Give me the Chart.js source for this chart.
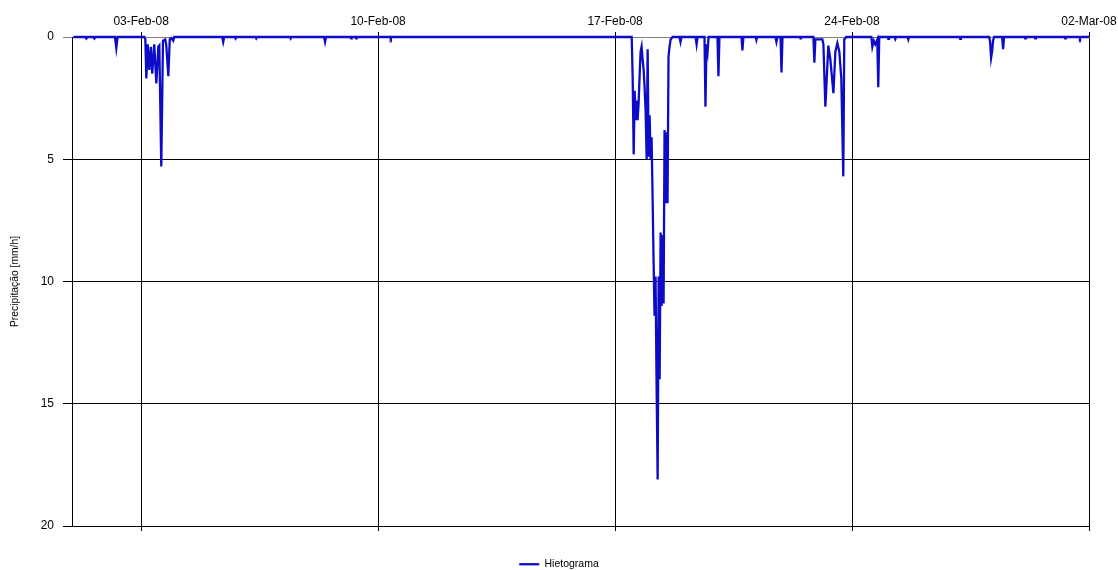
<!DOCTYPE html>
<html>
<head>
<meta charset="utf-8">
<title>Hietograma</title>
<script src="https://cdn.jsdelivr.net/npm/chart.js@4.4.1/dist/chart.umd.min.js"></script>
<style>
  html, body { margin: 0; padding: 0; background: #fff; }
  canvas { display: block; }
</style>
</head>
<body>
<canvas id="hyetograph" width="1118" height="570"></canvas>
<script>
// x axis is hours since 01-Feb-08 00:00
const tickHours = [48, 216, 384, 552, 720];
const tickLabels = ["03-Feb-08", "10-Feb-08", "17-Feb-08", "24-Feb-08", "02-Mar-08"];

const hours = [
  0, 8.5, 9.2, 9.9, 14.2, 14.9, 15.6, 29.5, 30.4, 31.3,
  // 03-Feb event
  50.3, 51.0, 51.7, 52.7, 53.8, 54.9, 55.9, 57.3, 58.8, 60.2,
  60.9, 62.3, 63.5, 65.1, 65.8, 67.3, 68.3, 69.4, 70.8, 71.5,
  105.5, 106.2, 106.9, 114.5, 115.0, 115.5, 129.0, 129.6, 130.2,
  153.5, 154.0, 154.5, 177.7, 178.4, 179.1, 196.3, 196.8, 197.3,
  200.0, 200.4, 200.8, 224.5, 225.0, 225.5,
  // 17/18-Feb storm
  395.8, 396.5, 397.2, 397.9, 398.6, 399.3, 400.0, 400.7, 401.4, 402.1,
  402.8, 403.5, 404.2, 404.9, 405.7, 406.4, 407.1, 407.8, 408.5, 409.2,
  409.9, 410.6, 411.3, 412.0, 412.7, 413.4, 414.2, 414.9, 415.6, 416.3,
  417.0, 417.7, 418.4, 419.1, 419.8, 420.5, 421.2, 421.9, 422.6, 423.4,
  424.8,
  // showers up to 24-Feb
  429.7, 430.4, 431.1, 441.1, 441.8, 442.5, 447.4, 448.1, 448.8, 449.6,
  450.3, 456.6, 457.3, 458.0, 473.6, 474.3, 475.0, 483.7, 484.2, 484.7,
  497.7, 498.4, 499.1, 501.3, 502.0, 502.7, 515.0, 515.4, 515.8,
  524.6, 525.3, 526.0, 531.0, 531.7, 533.1, 535.2, 536.6, 538.8, 540.2,
  541.6, 543.0, 544.4, 545.8, 546.5, 547.9,
  // late February
  565.7, 566.4, 567.4, 568.5, 569.9, 570.6, 571.3, 577.2, 577.7, 578.2,
  582.2, 582.7, 583.2, 591.4, 591.9, 592.4, 628.2, 628.7, 629.2,
  649.2, 649.9, 650.6, 651.3, 652.0, 652.7, 658.4, 659.1, 659.8,
  674.2, 674.7, 675.2, 681.3, 681.8, 682.3, 702.5, 703.0, 703.5,
  713.1, 713.6, 714.1, 720
];

const precip = [
  0, 0, 0.06, 0, 0, 0.06, 0, 0, 0.45, 0,
  0, 0.1, 1.7, 0.3, 1.35, 0.4, 1.5, 0.3, 1.9, 0.4,
  0.35, 5.3, 0.15, 0.1, 0.3, 1.6, 0.1, 0.05, 0.15, 0,
  0, 0.2, 0, 0, 0.06, 0, 0, 0.06, 0,
  0, 0.06, 0, 0, 0.2, 0, 0, 0.06, 0,
  0, 0.06, 0, 0, 0.06, 0,
  0, 1.7, 4.8, 2.2, 3.4, 2.6, 3.4, 2.7, 1.6, 0.6,
  0.4, 0.9, 1.3, 2.0, 3.1, 5.0, 0.5, 4.9, 3.2, 5.0,
  4.1, 6.5, 9.1, 11.4, 9.8, 14.0, 18.1, 9.8, 14.0, 8.0,
  11.0, 8.1, 10.9, 3.8, 6.8, 3.9, 6.8, 0.8, 0.4, 0.1,
  0,
  0, 0.2, 0, 0, 0.3, 0, 0, 2.85, 0.3, 0.6,
  0, 0, 1.6, 0, 0, 0.55, 0, 0, 0.12, 0,
  0, 0.2, 0, 0, 1.45, 0, 0, 0.06, 0,
  0, 1.05, 0.1, 0.1, 0.3, 2.85, 0.35, 0.9, 2.3, 0.6,
  0.25, 0.6, 1.7, 5.7, 0.1, 0,
  0, 0.4, 0.15, 0.3, 0.1, 2.05, 0, 0, 0.08, 0,
  0, 0.08, 0, 0, 0.1, 0, 0, 0.08, 0,
  0, 0.2, 0.85, 0.6, 0.15, 0, 0, 0.5, 0,
  0, 0.06, 0, 0, 0.06, 0, 0, 0.06, 0,
  0, 0.06, 0, 0
];

const family = "'Liberation Sans', Arial, sans-serif";
const tickFont = { family: family, size: 12 };

const points = hours.map((h, i) => ({ x: h, y: precip[i] }));

function fixTicks(scale) {
  scale.ticks = tickHours.map(v => ({ value: v }));
}

// keep the plot right edge at 02-Mar while the legend stays centred on the canvas
function fitX(height) {
  return s => {
    s.height = typeof height === "function" ? height(s) : height;
    s.paddingLeft = 0;
    s.paddingRight = 29;
  };
}

new Chart(document.getElementById("hyetograph"), {
  type: "line",
  data: {
    datasets: [{
      label: "Hietograma",
      data: points,
      borderColor: "rgb(12, 12, 200)",
      backgroundColor: "rgb(12, 12, 200)",
      borderWidth: 2.3,
      pointRadius: 0,
      tension: 0,
      fill: false,
      clip: 3
    }]
  },
  options: {
    responsive: false,
    animation: false,
    layout: { padding: 0 },
    plugins: {
      tooltip: { enabled: false },
      legend: {
        position: "bottom",
        maxHeight: 17,
        labels: {
          usePointStyle: true,
          pointStyle: "line",
          pointStyleWidth: 20,
          padding: 6,
          color: "#000",
          font: { family: family, size: 10.5 }
        }
      }
    },
    scales: {
      x: {
        type: "linear",
        position: "top",
        min: -1,
        max: 720,
        afterBuildTicks: fixTicks,
        afterFit: fitX(37),
        ticks: {
          callback: v => tickLabels[tickHours.indexOf(v)],
          autoSkip: false,
          maxRotation: 0,
          padding: 3,
          color: "#000",
          font: tickFont
        },
        grid: { color: "#000", tickLength: 5 },
        border: { color: "#808080" }
      },
      x2: {
        type: "linear",
        position: "bottom",
        min: -1,
        max: 720,
        afterBuildTicks: fixTicks,
        afterFit: fitX(s => 44 - s.chart.legend.height),
        ticks: { display: false },
        grid: { drawOnChartArea: false, color: "#000", tickLength: 5 },
        border: { color: "#000" }
      },
      y: {
        reverse: true,
        min: 0,
        max: 20,
        afterFit: s => { s.width = 72; },
        ticks: { stepSize: 5, padding: 9, color: "#000", font: tickFont },
        title: {
          display: true,
          text: "Precipitação [mm/h]",
          color: "#000",
          font: { family: family, size: 10.3 },
          padding: { top: 9, bottom: 0 }
        },
        grid: {
          color: ctx => (ctx.tick && ctx.tick.value === 0 ? "#808080" : "#000"),
          tickLength: 9
        },
        border: { color: "#000" }
      }
    }
  }
});
</script>
</body>
</html>
